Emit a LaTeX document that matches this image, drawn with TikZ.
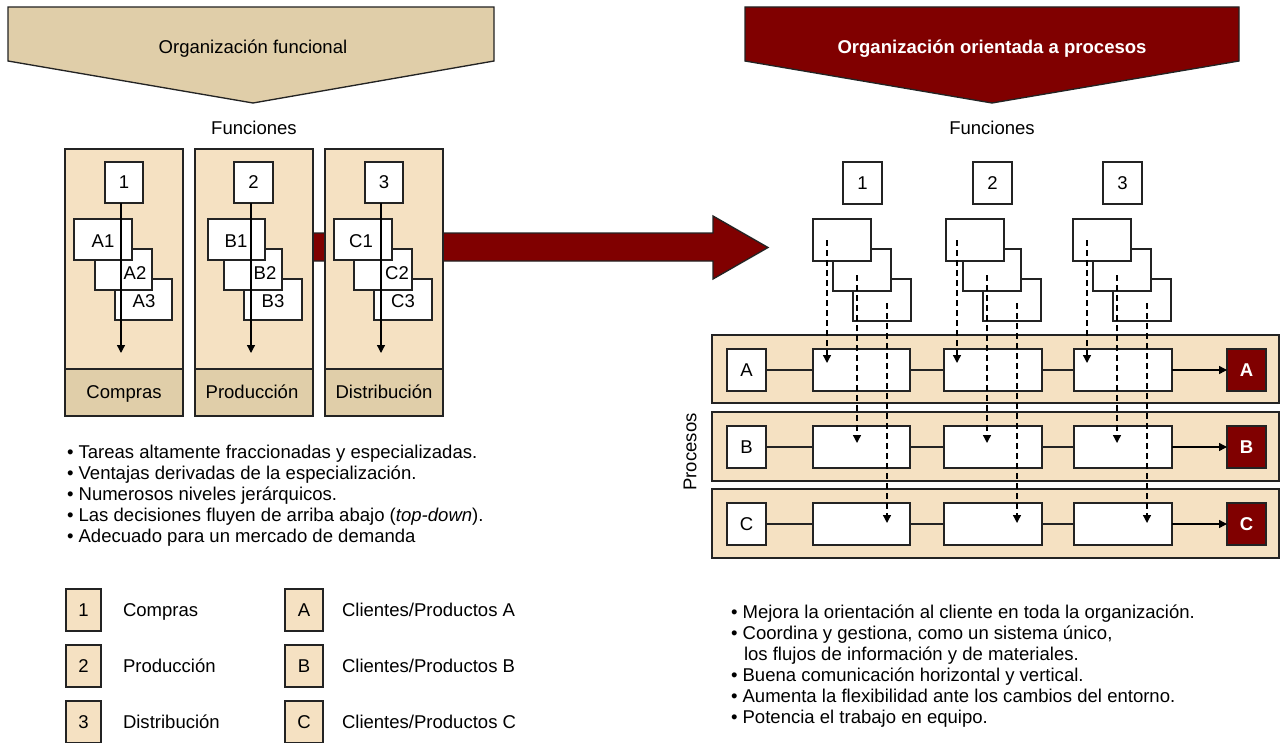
\documentclass[tikz,border=0pt]{standalone}
\usepackage{fontspec}
\setmainfont{Liberation Sans}
\usetikzlibrary{arrows.meta}

\definecolor{peach}{RGB}{245,225,194}
\definecolor{khaki}{RGB}{224,206,169}
\definecolor{maroon}{RGB}{128,0,0}
\definecolor{edge}{RGB}{35,35,35}

\newcommand{\basefont}{\fontsize{13.9}{16}\selectfont}

\tikzset{
  every node/.style={font=\basefont, inner sep=0pt, outer sep=0pt},
  sz/.style 2 args={minimum width=#1*0.75pt, minimum height=#2*0.75pt},
  frame/.style={draw=edge, line width=1pt},
  wbox/.style={frame, fill=white, anchor=north west},
  tanbox/.style={frame, fill=peach, anchor=north west},
  footbox/.style={frame, fill=khaki, anchor=north west},
  resbox/.style={frame, fill=maroon, text=white, anchor=north west, font=\basefont\bfseries},
  tip/.style={-{Triangle[width=6pt,length=6pt]}},
  flow/.style={draw=black, line width=1pt, tip},
  dashflow/.style={draw=black, line width=1pt, dash pattern=on 4.5pt off 3pt, tip},
  txt/.style={anchor=base west},
}

\begin{document}
\begin{tikzpicture}[x=0.75pt,y=-0.75pt]
\useasboundingbox (0,0) rectangle (1284,742);

% ---------- banners ----------
\draw[frame, fill=khaki] (8,7) -- (494,7) -- (494,61) -- (253,103) -- (8,61) -- cycle;
\node[anchor=base] (titleL) at (253,54) {Organización funcional};
\draw[frame, fill=maroon] (745,7) -- (1239,7) -- (1239,61) -- (992,103) -- (745,61) -- cycle;
\node[anchor=base, text=white, font=\basefont\bfseries] (titleR) at (992,54) {Organización orientada a procesos};

\node[anchor=base] (funcL) at (254,134) {Funciones};
\node[anchor=base] (funcR) at (992,134) {Funciones};

% ---------- transition arrow (behind the columns) ----------
\draw[frame, fill=maroon] (300,233) -- (713,233) -- (713,216) -- (768,247.5)
  -- (713,279) -- (713,261) -- (300,261) -- cycle;

% ---------- functional organisation: three columns ----------
\node[tanbox, sz={118}{220}] (col1) at (65,149) {};
\node[tanbox, sz={118}{220}] (col2) at (195,149) {};
\node[tanbox, sz={118}{220}] (col3) at (325,149) {};
\node[footbox, sz={118}{47}] (foot1) at (65,369) {};
\node[footbox, sz={118}{47}] (foot2) at (195,369) {};
\node[footbox, sz={118}{47}] (foot3) at (325,369) {};
\node[anchor=base] (foot1t) at (124,398) {Compras};
\node[anchor=base] (foot2t) at (252,398) {Producción};
\node[anchor=base] (foot3t) at (384,398) {Distribución};

\node[wbox, sz={38}{41}] (n1) at (105,162) {1};
\node[wbox, sz={39}{41}] (n2) at (234,162) {2};
\node[wbox, sz={38}{41}] (n3) at (365,162) {3};

% task stacks (last drawn lies on top)
\node[wbox, sz={57}{41}] (A3) at (115,279) {};
\node[wbox, sz={57}{41}] (A2) at (95,249) {};
\node[wbox, sz={58}{41}] (A1) at (74,219) {};
\node[wbox, sz={58}{41}] (B3) at (244,279) {};
\node[wbox, sz={58}{41}] (B2) at (224,249) {};
\node[wbox, sz={57}{41}] (B1) at (208,219) {};
\node[wbox, sz={58}{41}] (C3) at (374,279) {};
\node[wbox, sz={58}{41}] (C2) at (354,249) {};
\node[wbox, sz={58}{41}] (C1) at (334,219) {};

\node (A1t) at (103,241) {A1};
\node (A2t) at (135,273) {A2};
\node (A3t) at (144,301) {A3};
\node (B1t) at (236,241) {B1};
\node (B2t) at (265,273) {B2};
\node (B3t) at (273,301) {B3};
\node (C1t) at (361,241) {C1};
\node (C2t) at (397,273) {C2};
\node (C3t) at (403,301) {C3};

\coordinate (e1) at (121,353);
\coordinate (e2) at (251,353);
\coordinate (e3) at (381,353);
\draw[flow] (n1.south -| e1) -- (e1);
\draw[flow] (n2.south -| e2) -- (e2);
\draw[flow] (n3.south -| e3) -- (e3);

% ---------- bullet list, functional ----------
\node[txt] (bl1) at (67,458.5) {• Tareas altamente fraccionadas y especializadas.};
\node[txt] (bl2) at (67,479.5) {• Ventajas derivadas de la especialización.};
\node[txt] (bl3) at (67,500.5) {• Numerosos niveles jerárquicos.};
\node[txt] (bl4) at (67,521.5) {• Las decisiones fluyen de arriba abajo (\textit{top-down}).};
\node[txt] (bl5) at (67,542.5) {• Adecuado para un mercado de demanda};

% ---------- legend ----------
\node[tanbox, sz={35}{42}] (k1) at (66,589) {1};
\node[tanbox, sz={35}{42}] (k2) at (66,645) {2};
\node[tanbox, sz={35}{42}] (k3) at (66,701) {3};
\node[txt] (k1t) at (123,616.5) {Compras};
\node[txt] (k2t) at (123,672.5) {Producción};
\node[txt] (k3t) at (123,728.5) {Distribución};
\node[tanbox, sz={38}{42}] (kA) at (285,589) {A};
\node[tanbox, sz={38}{42}] (kB) at (285,645) {B};
\node[tanbox, sz={38}{42}] (kC) at (285,701) {C};
\node[txt] (kAt) at (342,616.5) {Clientes/Productos A};
\node[txt] (kBt) at (342,672.5) {Clientes/Productos B};
\node[txt] (kCt) at (342,728.5) {Clientes/Productos C};

% ---------- process organisation ----------
\node[wbox, sz={39}{42}] (f1) at (843,162) {1};
\node[wbox, sz={39}{42}] (f2) at (973,162) {2};
\node[wbox, sz={39}{42}] (f3) at (1103,162) {3};

\node[wbox, sz={58}{42}] (t13) at (853,279) {};
\node[wbox, sz={58}{42}] (t12) at (833,249) {};
\node[wbox, sz={58}{42}] (t11) at (813,219) {};
\node[wbox, sz={58}{42}] (t23) at (983,279) {};
\node[wbox, sz={58}{42}] (t22) at (963,249) {};
\node[wbox, sz={58}{42}] (t21) at (946,219) {};
\node[wbox, sz={58}{42}] (t33) at (1113,279) {};
\node[wbox, sz={58}{42}] (t32) at (1093,249) {};
\node[wbox, sz={58}{42}] (t31) at (1073,219) {};

% process bands
\node[tanbox, sz={567}{68}] (bandA) at (712,335) {};
\node[tanbox, sz={567}{69}] (bandB) at (712,412) {};
\node[tanbox, sz={567}{69}] (bandC) at (712,489) {};
\node[rotate=90] (proc) at (690,452) {Procesos};

\foreach \r/\y in {A/349,B/426,C/503} {
  \node[wbox, sz={39}{42}] (L\r) at (727,\y) {\r};
  \node[wbox, sz={97}{42}] (P\r1) at (813,\y) {};
  \node[wbox, sz={98}{42}] (P\r2) at (944,\y) {};
  \node[wbox, sz={98}{42}] (P\r3) at (1074,\y) {};
  \node[resbox, sz={39}{42}] (R\r) at (1227,\y) {\r};
  \draw[frame] (L\r) -- (P\r1);
  \draw[frame] (P\r1) -- (P\r2);
  \draw[frame] (P\r2) -- (P\r3);
  \draw[flow] (P\r3) -- (R\r);
}

% dashed flows from each function's tasks into the processes
\foreach \c/\x in {1/827,2/957,3/1087} {
  \coordinate (s\c1) at (\x,240);
  \coordinate (d\c1) at (\x,363);
  \coordinate (s\c2) at (\x+30,275);
  \coordinate (d\c2) at (\x+30,443);
  \coordinate (s\c3) at (\x+60,303);
  \coordinate (d\c3) at (\x+60,523);
  \draw[dashflow] (s\c1) -- (d\c1);
  \draw[dashflow] (s\c2) -- (d\c2);
  \draw[dashflow] (s\c3) -- (d\c3);
}

% ---------- bullet list, process ----------
\node[txt] (br1) at (731,618.5) {• Mejora la orientación al cliente en toda la organización.};
\node[txt] (br2) at (731,639.5) {• Coordina y gestiona, como un sistema único,};
\node[txt] (br2b) at (744,660.5) {los flujos de información y de materiales.};
\node[txt] (br3) at (731,681.5) {• Buena comunicación horizontal y vertical.};
\node[txt] (br4) at (731,702.5) {• Aumenta la flexibilidad ante los cambios del entorno.};
\node[txt] (br5) at (731,723.5) {• Potencia el trabajo en equipo.};
\end{tikzpicture}
\end{document}
